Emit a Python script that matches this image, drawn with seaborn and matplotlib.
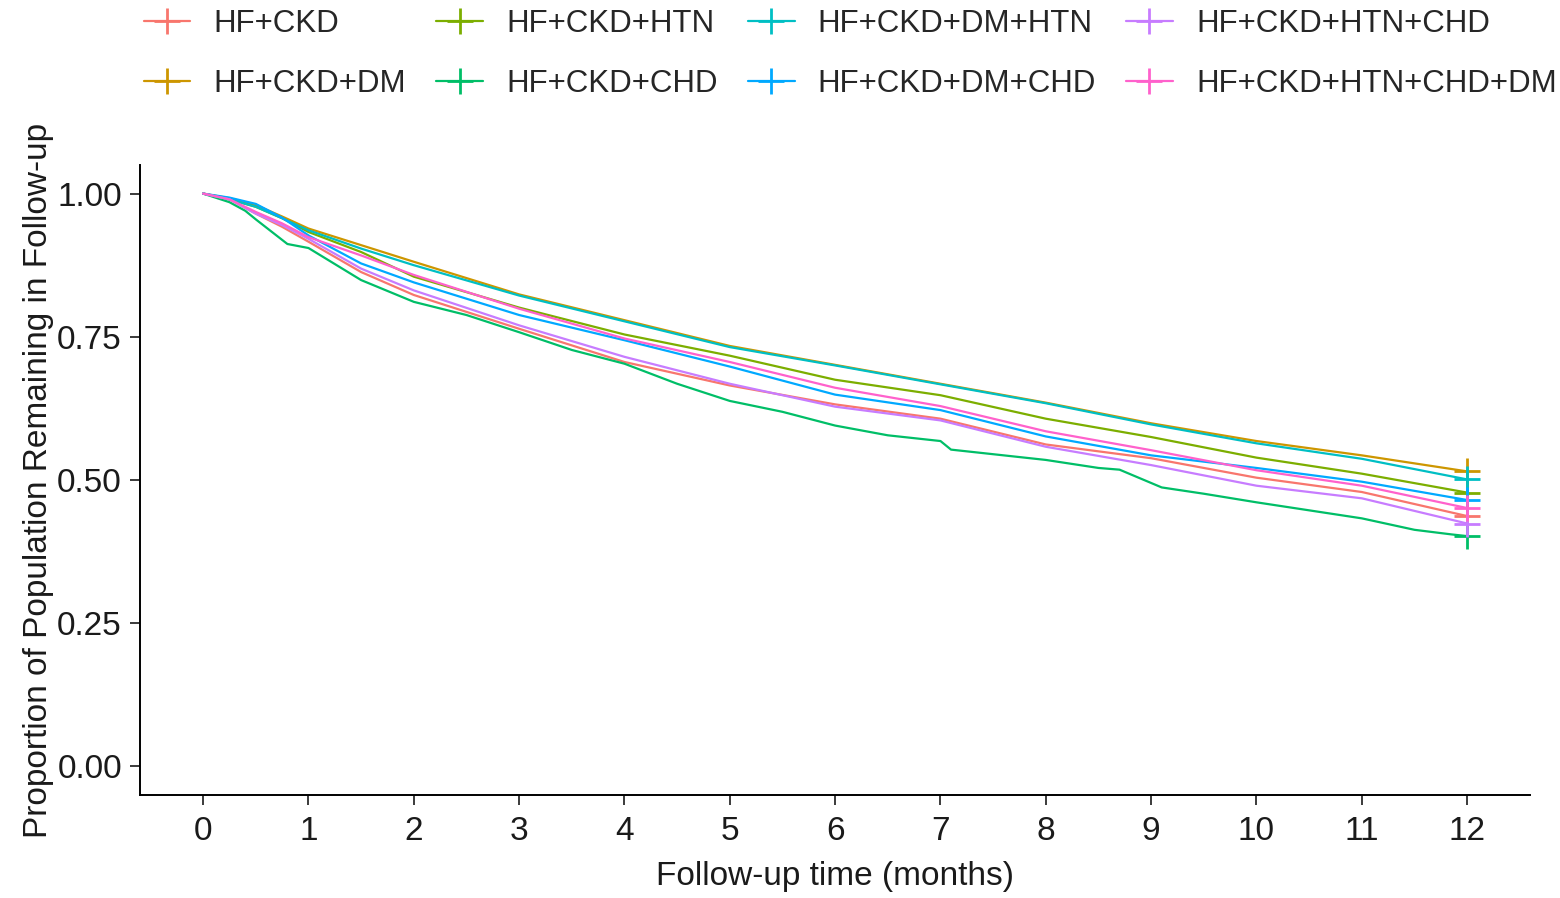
import pandas as pd
import matplotlib.pyplot as plt
import seaborn as sns
from matplotlib.lines import Line2D

months = [0, 0.25, 0.5, 0.75, 1, 1.5, 2, 3, 4, 5, 6, 7, 8, 9, 10, 11, 12]

hf_ckd = [1, 0.990, 0.965, 0.942, 0.916, 0.863, 0.823, 0.764, 0.706, 0.665, 0.632, 0.607, 0.562, 0.538, 0.504, 0.479, 0.437]
hf_ckd_dm = [1, 0.992, 0.980, 0.960, 0.939, 0.910, 0.881, 0.824, 0.779, 0.734, 0.701, 0.668, 0.635, 0.599, 0.568, 0.543, 0.515]
hf_ckd_htn = [1, 0.990, 0.977, 0.957, 0.933, 0.898, 0.855, 0.801, 0.754, 0.717, 0.675, 0.648, 0.607, 0.575, 0.539, 0.511, 0.478]
hf_ckd_dm_htn = [1, 0.990, 0.977, 0.957, 0.936, 0.904, 0.875, 0.822, 0.777, 0.732, 0.700, 0.667, 0.634, 0.597, 0.564, 0.537, 0.501]
hf_ckd_dm_chd = [1, 0.993, 0.982, 0.958, 0.927, 0.878, 0.845, 0.788, 0.744, 0.698, 0.649, 0.622, 0.576, 0.543, 0.521, 0.497, 0.465]
hf_ckd_htn_chd = [1, 0.990, 0.965, 0.945, 0.921, 0.869, 0.831, 0.770, 0.715, 0.668, 0.628, 0.604, 0.558, 0.526, 0.490, 0.468, 0.424]
hf_ckd_htn_chd_dm = [1, 0.990, 0.968, 0.948, 0.924, 0.892, 0.858, 0.799, 0.747, 0.706, 0.661, 0.629, 0.585, 0.552, 0.517, 0.490, 0.451]

# HF+CKD+CHD has a few visible drops, read at more points
chd_months = [0, 0.25, 0.4, 0.5, 0.8, 1, 1.5, 2, 2.5, 3, 3.5, 4, 4.5, 5, 5.5, 6, 6.5, 7, 7.1, 7.5, 8,
              8.5, 8.7, 9.1, 9.5, 10, 10.5, 11, 11.5, 11.85, 12]
hf_ckd_chd = [1, 0.985, 0.970, 0.955, 0.912, 0.905, 0.849, 0.811, 0.788, 0.758, 0.727, 0.703, 0.668, 0.638,
              0.619, 0.595, 0.578, 0.568, 0.553, 0.545, 0.535, 0.521, 0.518, 0.487, 0.476, 0.461, 0.447,
              0.433, 0.413, 0.405, 0.402]

groups = ['HF+CKD', 'HF+CKD+DM', 'HF+CKD+HTN', 'HF+CKD+CHD',
          'HF+CKD+DM+HTN', 'HF+CKD+DM+CHD', 'HF+CKD+HTN+CHD', 'HF+CKD+HTN+CHD+DM']
colors = ['#F8766D', '#CD9600', '#7CAE00', '#00BE67', '#00BFC4', '#00A9FF', '#C77CFF', '#FF61CC']

series = {
    'HF+CKD': (months, hf_ckd),
    'HF+CKD+DM': (months, hf_ckd_dm),
    'HF+CKD+HTN': (months, hf_ckd_htn),
    'HF+CKD+CHD': (chd_months, hf_ckd_chd),
    'HF+CKD+DM+HTN': (months, hf_ckd_dm_htn),
    'HF+CKD+DM+CHD': (months, hf_ckd_dm_chd),
    'HF+CKD+HTN+CHD': (months, hf_ckd_htn_chd),
    'HF+CKD+HTN+CHD+DM': (months, hf_ckd_htn_chd_dm),
}

rows = []
for g in groups:
    t, s = series[g]
    for ti, si in zip(t, s):
        rows.append({'time': ti, 'surv': si, 'group': g})
df = pd.DataFrame(rows)
ends = df.groupby('group', sort=False).tail(1)

sns.set_style('ticks')
plt.rcParams['font.family'] = ['Liberation Sans', 'DejaVu Sans']

fig = plt.figure(figsize=(15.6, 8.98), dpi=100)
ax = fig.add_axes([0.0897, 0.1147, 0.8913, 0.7016])

palette = dict(zip(groups, colors))
sns.lineplot(data=df, x='time', y='surv', hue='group', hue_order=groups, palette=palette,
             estimator=None, sort=False, linewidth=1.6, legend=False, ax=ax)

# censor marks at end of follow-up
for g in groups:
    e = ends[ends['group'] == g]
    ax.plot(e['time'], e['surv'], marker='+', markersize=19, mew=2, color=palette[g], linestyle='none')

ax.set_xlim(-0.6, 12.6)
ax.set_ylim(-0.05, 1.05)
ax.set_xticks(range(0, 13))
ax.set_yticks([0, 0.25, 0.5, 0.75, 1.0])
ax.set_yticklabels(['0.00', '0.25', '0.50', '0.75', '1.00'])
ax.set_xlabel('Follow-up time (months)', fontsize=24, color='#1a1a1a', labelpad=10)
ax.set_ylabel('Proportion of Population Remaining in Follow-up', fontsize=24, color='#1a1a1a', labelpad=2)
ax.tick_params(axis='both', labelsize=24, length=7, width=1.2, colors='#1a1a1a', labelcolor='#1a1a1a')
ax.tick_params(axis='x', pad=8)
ax.tick_params(axis='y', pad=6)
for side in ['left', 'bottom']:
    ax.spines[side].set_linewidth(1.4)
    ax.spines[side].set_color('black')
sns.despine(ax=ax)

handles = [Line2D([0], [0], color=c, marker='+', markersize=19, mew=2, lw=1.6) for c in colors]
fig.legend(handles, groups, loc='upper left', bbox_to_anchor=(0.08, 1.011), ncol=4, frameon=False,
           fontsize=22.5, handlelength=1.5, handletextpad=0.74, columnspacing=0.96, labelspacing=0.97,
           borderaxespad=0.2)

fig.savefig('out.png', dpi=100)
